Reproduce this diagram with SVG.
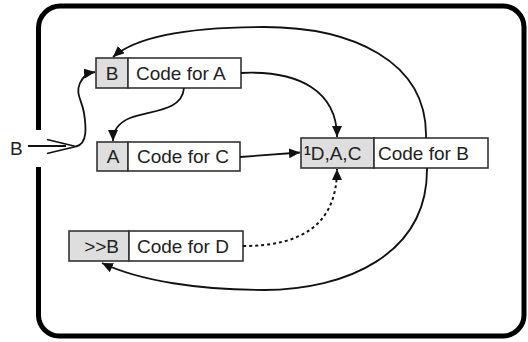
<svg xmlns="http://www.w3.org/2000/svg" width="528" height="342" viewBox="0 0 528 342">
<style>
.frame{fill:none;stroke:#000;stroke-width:5}
.cell{stroke:#333;stroke-width:1.6}
.key{fill:#dedede}
.code{fill:#fff}
.t{font-family:"Liberation Sans",Arial,sans-serif;font-size:19px;fill:#222}
.c{fill:none;stroke:#111;stroke-width:1.8}
.dot{stroke-dasharray:3 3;stroke-width:2}
</style>
<defs>
<marker id="ah" markerUnits="userSpaceOnUse" markerWidth="11" markerHeight="10" refX="11" refY="5" orient="auto">
<path d="M0,0 L11,5 L0,10 z" fill="#111"/>
</marker>
</defs>
<rect width="528" height="342" fill="#fff"/>
<path class="frame" d="M38.5,130 V28 A22,22 0 0 1 60.5,6 H503 A21,21 0 0 1 524,27 V315 A21,21 0 0 1 503,336 H59 A21,21 0 0 1 38.5,315 V167"/>

<g id="entry">
<text class="t" x="10" y="155">B</text>
<path class="c" d="M28,146 H66 M47,139.5 L76,146.5 L47,153.5"/>
</g>

<g id="nodeA">
<rect class="cell key" x="96" y="58" width="32" height="30"/>
<rect class="cell code" x="128" y="58" width="113" height="30"/>
<text class="t" x="112" y="80" text-anchor="middle">B</text>
<text class="t" x="136" y="80">Code for A</text>
</g>

<g id="nodeC">
<rect class="cell key" x="97" y="142" width="31" height="29"/>
<rect class="cell code" x="128" y="142" width="112" height="29"/>
<text class="t" x="113" y="163" text-anchor="middle">A</text>
<text class="t" x="137" y="163">Code for C</text>
</g>

<g id="nodeB">
<rect class="cell key" x="301" y="138" width="73" height="30"/>
<rect class="cell code" x="374" y="138" width="114" height="30"/>
<text class="t" x="304" y="160"><tspan font-size="12" font-weight="bold" dy="-5">1</tspan><tspan dy="5">D,A,C</tspan></text>
<text class="t" x="378" y="160">Code for B</text>
</g>

<g id="nodeD">
<rect class="cell key" x="69" y="231" width="60" height="30"/>
<rect class="cell code" x="129" y="231" width="114" height="30"/>
<text class="t" x="119" y="253" text-anchor="end">&gt;&gt;B</text>
<text class="t" x="137" y="253">Code for D</text>
</g>

<g id="connectors">
<path class="c" marker-end="url(#ah)" d="M76,146.5 C88,144 86,126 84,113 C82,100 75,94 80,83 C83,76 88,73 95,72"/>
<path class="c" marker-end="url(#ah)" d="M426,138 C428,60 350,27 264,27 C200,27 140,33 113,57"/>
<path class="c" marker-end="url(#ah)" d="M241,73 C300,70 337,92 337,137"/>
<path class="c" marker-end="url(#ah)" d="M184,88 C182,112 150,110 130,118 C118,123 113,130 113,141"/>
<path class="c" marker-end="url(#ah)" d="M240,157 L300,152.5"/>
<path class="c dot" marker-end="url(#ah)" d="M243,246 C300,246 337,226 337,169"/>
<path class="c" marker-end="url(#ah)" d="M427,168 C428,255 345,290 264,290 C200,290 140,281 102,263"/>
</g>
</svg>
